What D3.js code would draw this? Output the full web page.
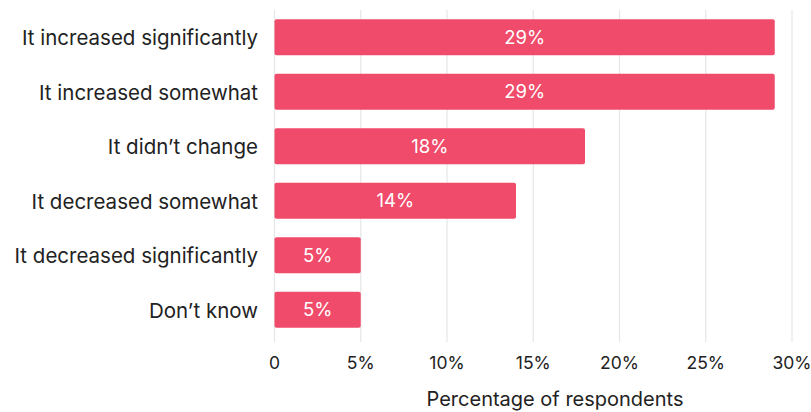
<!DOCTYPE html>
<html>
<head>
<meta charset="utf-8">
<script src="https://cdn.jsdelivr.net/npm/d3@7"></script>
<style>
  html, body { margin: 0; padding: 0; background: #fff; }
  svg text { font-family: Inter, "Noto Sans", sans-serif; }
</style>
</head>
<body>
<svg id="chart" width="811" height="412"></svg>
<script>
const categories = [
  "It increased significantly",
  "It increased somewhat",
  "It didn\u2019t change",
  "It decreased somewhat",
  "It decreased significantly",
  "Don\u2019t know"
];
const values = [29, 29, 18, 14, 5, 5];
const xTicks = [0, 5, 10, 15, 20, 25, 30];
const xTitle = "Percentage of respondents";

const svg = d3.select("#chart");
const x = d3.scaleLinear().domain([0, 30]).range([274.5, 792]);
const y = d3.scaleBand().domain(categories).range([10, 337]).paddingInner(0.34).paddingOuter(0.17);

// vertical grid lines
svg.append("g").selectAll("line").data(xTicks).join("line")
  .attr("x1", d => x(d)).attr("x2", d => x(d))
  .attr("y1", 10).attr("y2", 342)
  .attr("stroke", "#e6e6e6").attr("stroke-width", 1.2);

// x tick labels
svg.append("g").selectAll("text").data(xTicks).join("text")
  .attr("x", d => x(d)).attr("y", 369)
  .attr("text-anchor", "middle")
  .attr("font-size", 17.5).attr("fill", "#222")
  .text(d => d === 0 ? "0" : d + "%");

// axis title, centred under the plot plus label area
svg.append("text")
  .attr("x", 555).attr("y", 406)
  .attr("text-anchor", "middle")
  .attr("font-size", 20).attr("fill", "#222")
  .text(xTitle);

// category labels
svg.append("g").selectAll("text").data(categories).join("text")
  .attr("x", 258).attr("y", d => y(d) + y.bandwidth() / 2 + 1)
  .attr("dy", "0.35em")
  .attr("text-anchor", "end")
  .attr("font-size", 20.5).attr("fill", "#222")
  .text(d => d);

// bars
svg.append("g").selectAll("rect").data(values).join("rect")
  .attr("x", x(0)).attr("y", (d, i) => y(categories[i]))
  .attr("width", d => x(d) - x(0)).attr("height", y.bandwidth())
  .attr("rx", 2).attr("fill", "#f04b6a");

// value labels
svg.append("g").selectAll("text").data(values).join("text")
  .attr("x", d => (x(0) + x(d)) / 2)
  .attr("y", (d, i) => y(categories[i]) + y.bandwidth() / 2)
  .attr("dy", "0.35em")
  .attr("text-anchor", "middle")
  .attr("font-size", 18.5).attr("fill", "#fff")
  .text(d => d + "%");
</script>
</body>
</html>
